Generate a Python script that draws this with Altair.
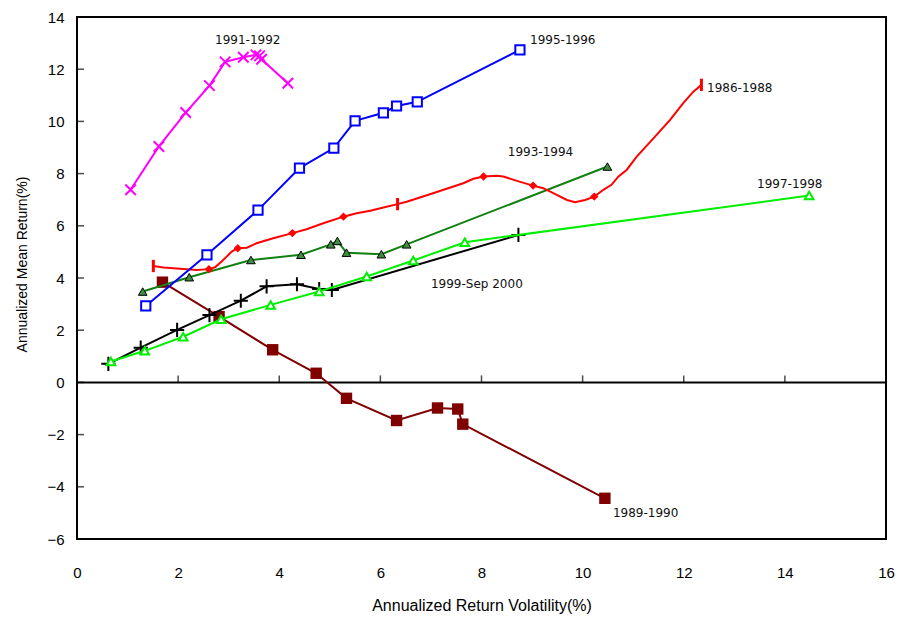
import altair as alt
import pandas as pd

# ---- series values: annualized volatility (%) and mean return (%) ----
vol_1986 = [1.51, 1.71, 2.04, 2.37, 2.61, 2.73, 2.86, 2.96, 3.06, 3.18, 3.36, 3.55,
            3.88, 4.26, 4.54, 4.87, 5.27, 5.53, 5.80, 6.06, 6.34, 6.52, 6.98, 7.64,
            7.84, 8.04, 8.30, 8.43, 8.70, 9.02, 9.22, 9.42, 9.69, 9.85, 10.05, 10.23,
            10.41, 10.57, 10.71, 10.87, 11.07, 11.40, 11.73, 11.99, 12.19, 12.35]
ret_1986 = [4.46, 4.40, 4.35, 4.31, 4.34, 4.41, 4.63, 4.82, 5.01, 5.14, 5.16, 5.33,
            5.52, 5.72, 5.87, 6.10, 6.35, 6.48, 6.58, 6.70, 6.83, 6.92, 7.21, 7.63,
            7.80, 7.89, 7.92, 7.89, 7.72, 7.54, 7.44, 7.25, 6.99, 6.90, 6.99, 7.12,
            7.38, 7.57, 7.89, 8.14, 8.65, 9.35, 10.06, 10.70, 11.14, 11.40]
diamond_idx_1986 = [4, 9, 13, 16, 25, 29, 35]
bar_idx_1986 = [0, 20, 45]

vol_1989 = [1.69, 2.81, 3.87, 4.73, 5.33, 6.32, 7.13, 7.53, 7.63, 10.44]
ret_1989 = [3.84, 2.52, 1.25, 0.35, -0.61, -1.46, -0.98, -1.02, -1.60, -4.44]

vol_1991 = [1.06, 1.62, 2.15, 2.62, 2.93, 3.29, 3.54, 3.61, 3.65, 4.17]
ret_1991 = [7.38, 9.04, 10.34, 11.37, 12.28, 12.46, 12.55, 12.51, 12.38, 11.46]

vol_1993 = [1.30, 2.22, 3.44, 4.43, 5.02, 5.15, 5.33, 6.02, 6.52, 10.49]
ret_1993 = [3.48, 4.03, 4.69, 4.89, 5.29, 5.42, 4.97, 4.91, 5.29, 8.27]

vol_1995 = [1.36, 2.57, 3.58, 4.40, 5.08, 5.50, 6.06, 6.32, 6.73, 8.76]
ret_1995 = [2.93, 4.89, 6.60, 8.21, 8.98, 10.02, 10.33, 10.59, 10.75, 12.74]

vol_1997 = [0.67, 1.34, 2.10, 2.85, 3.83, 4.79, 5.73, 6.65, 7.67, 14.48]
ret_1997 = [0.80, 1.21, 1.75, 2.42, 2.97, 3.48, 4.06, 4.67, 5.37, 7.16]

vol_1999 = [0.62, 1.26, 1.98, 2.62, 3.24, 3.75, 4.35, 4.79, 5.04, 8.73]
ret_1999 = [0.71, 1.33, 2.01, 2.58, 3.13, 3.68, 3.76, 3.58, 3.54, 5.65]

# ---- series labels ----
label_text = ["1991-1992", "1995-1996", "1986-1988", "1993-1994",
              "1997-1998", "1999-Sep 2000", "1989-1990"]
label_x = [2.73, 8.96, 12.46, 8.52, 13.45, 7.00, 10.60]
label_y = [13.12, 13.12, 11.28, 8.83, 7.61, 3.77, -5.00]

x_ticks = list(range(0, 17, 2))
y_ticks = list(range(-6, 15, 2))

X_SCALE = alt.Scale(domain=[0, 16], nice=False, zero=False)
Y_SCALE = alt.Scale(domain=[-6, 14], nice=False, zero=False)

LABEL_FONT = "Liberation Sans"
TEXT_FONT = "DejaVu Sans"

x_axis = alt.Axis(values=x_ticks, ticks=False, domain=False, grid=False,
                  labelPadding=26, labelFlush=False, labelFont=LABEL_FONT,
                  labelFontSize=15, labelColor="#000",
                  title="Annualized Return Volatility(%)",
                  titleFont=LABEL_FONT, titleFontSize=16, titleFontWeight="normal",
                  titleColor="#000", titlePadding=17)
y_axis = alt.Axis(values=y_ticks, ticks=False, domain=False, grid=False,
                  labelPadding=13, labelFlush=False, labelFont=LABEL_FONT,
                  labelFontSize=15, labelColor="#000",
                  title="Annualized Mean Return(%)",
                  titleFont=LABEL_FONT, titleFontSize=14, titleFontWeight="normal",
                  titleColor="#000", titleBaseline="middle", titleAngle=270,
                  titleX=-55, titleY=247)


def frame(vol, ret):
    return pd.DataFrame({"vol": vol, "ret": ret, "seq": range(len(vol))})


def enc(chart):
    return chart.encode(
        x=alt.X("vol:Q", scale=X_SCALE, axis=x_axis),
        y=alt.Y("ret:Q", scale=Y_SCALE, axis=y_axis),
    )


def series(vol, ret, line_color, width=2, **point):
    df = frame(vol, ret)
    line = enc(alt.Chart(df).mark_line(color=line_color, strokeWidth=width)).encode(order="seq:Q")
    pts = enc(alt.Chart(df).mark_point(**point))
    return line + pts


CROSS_X = "M-1,-1L1,1M-1,1L1,-1"
PLUS = "M-1,0H1M0,-1V1"
BAR = "M0,-1V1"

# zero line with its upward ticks, and the inward ticks of the value axis
zero_df = pd.DataFrame({"vol": [0, 16], "ret": [0, 0]})
zero_line = enc(alt.Chart(zero_df).mark_line(color="black", strokeWidth=2))

xt_df = pd.DataFrame({"vol": x_ticks[1:-1], "ret": [0] * (len(x_ticks) - 2)})
x_tick_marks = enc(alt.Chart(xt_df).mark_tick(orient="vertical", size=7, thickness=1.5,
                                               yOffset=-3.5, color="black"))
yt_df = pd.DataFrame({"vol": [0] * (len(y_ticks) - 2), "ret": y_ticks[1:-1]})
y_tick_marks = enc(alt.Chart(yt_df).mark_tick(orient="horizontal", size=7, thickness=1.5,
                                               xOffset=3.5, color="black"))

s1991 = series(vol_1991, ret_1991, "#ff00ff", shape=CROSS_X, size=110, filled=False,
               color="#ff00ff", strokeWidth=2, opacity=1)
s1995 = series(vol_1995, ret_1995, "#0000ff", shape="square", size=85, filled=True,
               fill="white", stroke="#0000ff", strokeWidth=2, opacity=1, fillOpacity=1)

# 1986-1988: dense path, with diamonds and bars on selected points
red_df = frame(vol_1986, ret_1986)
red_line = enc(alt.Chart(red_df).mark_line(color="#ff0000", strokeWidth=2)).encode(order="seq:Q")
red_diamonds = enc(alt.Chart(red_df.iloc[diamond_idx_1986]).mark_point(
    shape="diamond", size=70, filled=True, color="#ff0000", opacity=1))
red_bars = enc(alt.Chart(red_df.iloc[bar_idx_1986]).mark_point(
    shape=BAR, size=150, filled=False, color="#ff0000", strokeWidth=3, opacity=1))

s1993 = series(vol_1993, ret_1993, "#108010", shape="triangle-up", size=75, filled=True,
               fill="#3d8f3d", stroke="black", strokeWidth=1, opacity=1, fillOpacity=1)
s1997 = series(vol_1997, ret_1997, "#00ee00", shape="triangle-up", size=75, filled=True,
               fill="white", stroke="#00ee00", strokeWidth=2, opacity=1, fillOpacity=1)
s1999 = series(vol_1999, ret_1999, "#000000", shape=PLUS, size=200, filled=False,
               color="#000000", strokeWidth=2, opacity=1)
s1989 = series(vol_1989, ret_1989, "#800000", shape="square", size=130, filled=True,
               color="#800000", opacity=1)

labels_df = pd.DataFrame({"vol": label_x, "ret": label_y, "txt": label_text})
labels = enc(alt.Chart(labels_df).mark_text(align="left", baseline="middle",
                                             font=TEXT_FONT, fontSize=12,
                                             color="#111")).encode(text="txt:N")

chart = alt.layer(
    zero_line, x_tick_marks, y_tick_marks,
    s1989, s1999, s1997, s1993,
    red_line, red_diamonds, red_bars,
    s1995, s1991, labels,
).properties(
    width=809, height=522, autosize="none",
    padding={"left": 77, "top": 17, "right": 18, "bottom": 82},
    background="white",
).configure_view(stroke="black", strokeWidth=2)

chart.save("out.html", embed_options={"renderer": "svg", "actions": False})
